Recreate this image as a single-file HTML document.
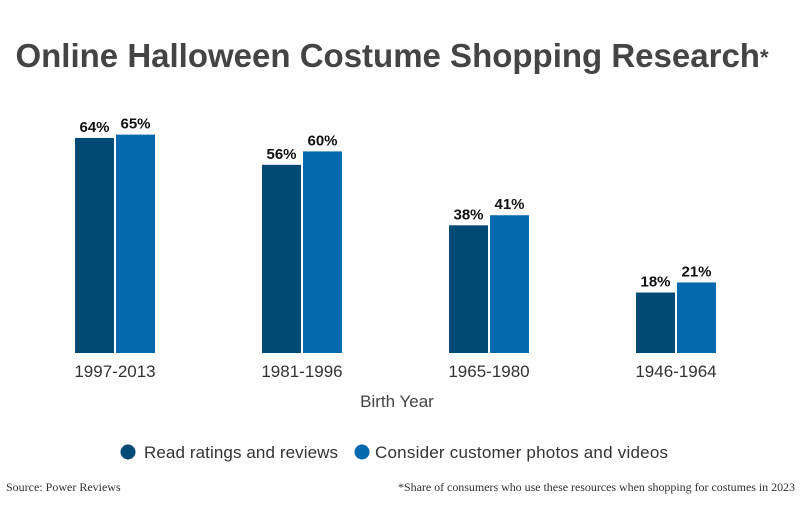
<!DOCTYPE html>
<html><head><meta charset="utf-8"><style>
body{margin:0;background:#fff;width:800px;height:500px;overflow:hidden;font-family:"Liberation Sans",sans-serif}
</style></head><body>
<svg width="800" height="500" viewBox="0 0 800 500">
<text x="392" y="67" text-anchor="middle" font-size="33" font-weight="bold" fill="#444">Online Halloween Costume Shopping Research<tspan font-size="22" dy="-2">*</tspan></text>
<g id="bars"></g>
<text x="397" y="407" text-anchor="middle" font-size="17" fill="#444">Birth Year</text>
<g>
<circle cx="128" cy="452" r="7.5" fill="#004a75"/>
<text x="144" y="458" font-size="17" fill="#333" textLength="194">Read ratings and reviews</text>
<circle cx="362" cy="452" r="7.5" fill="#0469ad"/>
<text x="375" y="458" font-size="17" fill="#333" textLength="293">Consider customer photos and videos</text>
</g>
<text x="6" y="491" font-size="12" font-family="Liberation Serif,serif" fill="#333">Source: Power Reviews</text>
<text x="795" y="491" text-anchor="end" font-size="12" font-family="Liberation Serif,serif" fill="#333" textLength="397">*Share of consumers who use these resources when shopping for costumes in 2023</text>
</svg>
<script>
const categories=["1997-2013","1981-1996","1965-1980","1946-1964"];
const reviews=[64,56,38,18];
const photos=[65,60,41,21];
const NS="http://www.w3.org/2000/svg";
const g=document.getElementById("bars");
const base=353, pxPer=3.36;
function y(v){return base-v*pxPer;}
function gx(i){return 75+i*187;}
function mk(tag,attrs){const e=document.createElementNS(NS,tag);for(const k in attrs)e.setAttribute(k,attrs[k]);return e;}
categories.forEach((c,i)=>{
  [[reviews,"#004a75",0,"reviews"],[photos,"#0469ad",41,"photos"]].forEach(([arr,col,off,nm])=>{
    const v=arr[i];
    const r=mk("rect",{x:gx(i)+off,y:y(v),width:39,height:v*pxPer,fill:col});
    
    
    g.appendChild(r);
    const t=mk("text",{x:gx(i)+off+19.5,y:y(v)-6,"text-anchor":"middle","font-size":"15","font-weight":"bold",fill:"#111"});
    t.textContent=v+"%";
    
    
    g.appendChild(t);
  });
  const l=mk("text",{x:gx(i)+40,y:377,"text-anchor":"middle","font-size":"17",fill:"#333"});
  l.textContent=c;
  
  
  g.appendChild(l);
});
</script>
</body></html>
